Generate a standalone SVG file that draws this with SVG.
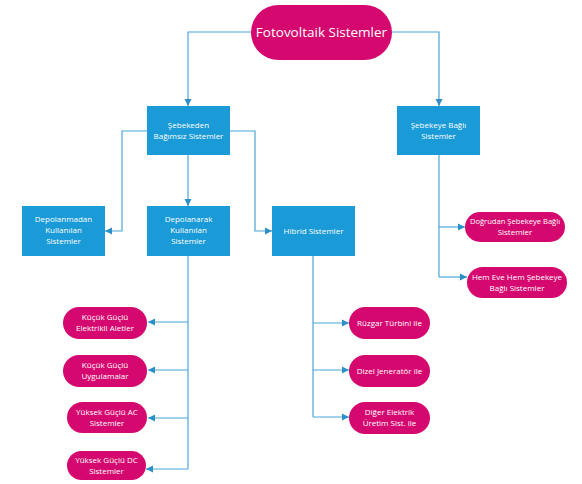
<svg xmlns="http://www.w3.org/2000/svg" width="582" height="484" viewBox="0 0 582 484">
<style>
.box{fill:#1a9ad6}
.pill{fill:#d5086f}
.t{font-family:"Open Sans","Noto Sans",sans-serif;font-size:8px;fill:#fff;text-anchor:middle}
.tt{font-family:"Open Sans","Noto Sans",sans-serif;font-size:13.5px;fill:#fff;text-anchor:middle}
.c{fill:none;stroke:#4aa6d8;stroke-width:1.2}
</style>
<defs>
<marker id="a" markerUnits="userSpaceOnUse" markerWidth="8" markerHeight="8" refX="7" refY="4" orient="auto">
<path d="M0,0.5 L7,4 L0,7.5 Z" fill="#2d8fc8"/>
</marker>
</defs>
<rect width="582" height="484" fill="#fff"/>
<g id="connectors">
<path class="c" d="M251,32 H188 V106" marker-end="url(#a)"/>
<path class="c" d="M392,32 H439 V106" marker-end="url(#a)"/>
<path class="c" d="M147,131 H122 V231 H105" marker-end="url(#a)"/>
<path class="c" d="M230,131 H255 V231 H272" marker-end="url(#a)"/>
<path class="c" d="M188,155 V206" marker-end="url(#a)"/>
<path class="c" d="M188,256 V469"/>
<path class="c" d="M188,322 H148" marker-end="url(#a)"/>
<path class="c" d="M188,370 H148" marker-end="url(#a)"/>
<path class="c" d="M188,418 H148" marker-end="url(#a)"/>
<path class="c" d="M188,469 H146" marker-end="url(#a)"/>
<path class="c" d="M313,255 V417"/>
<path class="c" d="M313,323 H349" marker-end="url(#a)"/>
<path class="c" d="M313,370 H349" marker-end="url(#a)"/>
<path class="c" d="M313,417 H349" marker-end="url(#a)"/>
<path class="c" d="M439,155 V277"/>
<path class="c" d="M439,227 H465" marker-end="url(#a)"/>
<path class="c" d="M439,277 H467" marker-end="url(#a)"/>
</g>
<g id="fotovoltaik">
<rect class="pill" x="251" y="5" width="141" height="55" rx="27.5"/>
<text class="tt" x="321.5" y="37">Fotovoltaik Sistemler</text>
</g>
<g id="sebekeden">
<rect class="box" x="147" y="106" width="83" height="49"/>
<text class="t" x="188.5" y="128">Şebekeden</text>
<text class="t" x="188.5" y="139">Bağımsız Sistemler</text>
</g>
<g id="sebekeye">
<rect class="box" x="397" y="106" width="83" height="49"/>
<text class="t" x="438.5" y="128">Şebekeye Bağlı</text>
<text class="t" x="438.5" y="139">Sistemler</text>
</g>
<g id="depolanmadan">
<rect class="box" x="22" y="206" width="83" height="50"/>
<text class="t" x="63.5" y="222">Depolanmadan</text>
<text class="t" x="63.5" y="233">Kullanılan</text>
<text class="t" x="63.5" y="244">Sistemler</text>
</g>
<g id="depolanarak">
<rect class="box" x="147" y="206" width="83" height="50"/>
<text class="t" x="188.5" y="222">Depolanarak</text>
<text class="t" x="188.5" y="233">Kullanılan</text>
<text class="t" x="188.5" y="244">Sistemler</text>
</g>
<g id="hibrid">
<rect class="box" x="272" y="206" width="83" height="50"/>
<text class="t" x="313.5" y="234">Hibrid Sistemler</text>
</g>
<g id="kucuk-elektrikli">
<rect class="pill" x="63" y="307" width="84" height="32" rx="16"/>
<text class="t" x="105" y="320">Küçük Güçlü</text>
<text class="t" x="105" y="331">Elektrikli Aletler</text>
</g>
<g id="kucuk-uygulamalar">
<rect class="pill" x="63" y="355" width="84" height="32" rx="16"/>
<text class="t" x="105" y="368">Küçük Güçlü</text>
<text class="t" x="105" y="379">Uygulamalar</text>
</g>
<g id="yuksek-ac">
<rect class="pill" x="67" y="402" width="80" height="31" rx="15.5"/>
<text class="t" x="107" y="415">Yüksek Güçlü AC</text>
<text class="t" x="107" y="426">Sistemler</text>
</g>
<g id="yuksek-dc">
<rect class="pill" x="67" y="451" width="79" height="29" rx="14.5"/>
<text class="t" x="106.5" y="463">Yüksek Güçlü DC</text>
<text class="t" x="106.5" y="474">Sistemler</text>
</g>
<g id="ruzgar">
<rect class="pill" x="349" y="307" width="81" height="32" rx="16"/>
<text class="t" x="389.5" y="326">Rüzgar Türbini ile</text>
</g>
<g id="dizel">
<rect class="pill" x="349" y="355" width="81" height="32" rx="16"/>
<text class="t" x="389.5" y="374">Dizel Jeneratör ile</text>
</g>
<g id="diger">
<rect class="pill" x="349" y="402" width="81" height="32" rx="16"/>
<text class="t" x="389.5" y="415">Diğer Elektrik</text>
<text class="t" x="389.5" y="426">Üretim Sist. ile</text>
</g>
<g id="dogrudan">
<rect class="pill" x="465" y="212" width="100" height="30" rx="15"/>
<text class="t" x="515" y="224" style="font-size:7.6px">Doğrudan Şebekeye Bağlı</text>
<text class="t" x="515" y="235">Sistemler</text>
</g>
<g id="hem-eve">
<rect class="pill" x="467" y="267" width="100" height="31" rx="15.5"/>
<text class="t" x="517" y="280">Hem Eve Hem Şebekeye</text>
<text class="t" x="517" y="291">Bağlı Sistemler</text>
</g>
</svg>
